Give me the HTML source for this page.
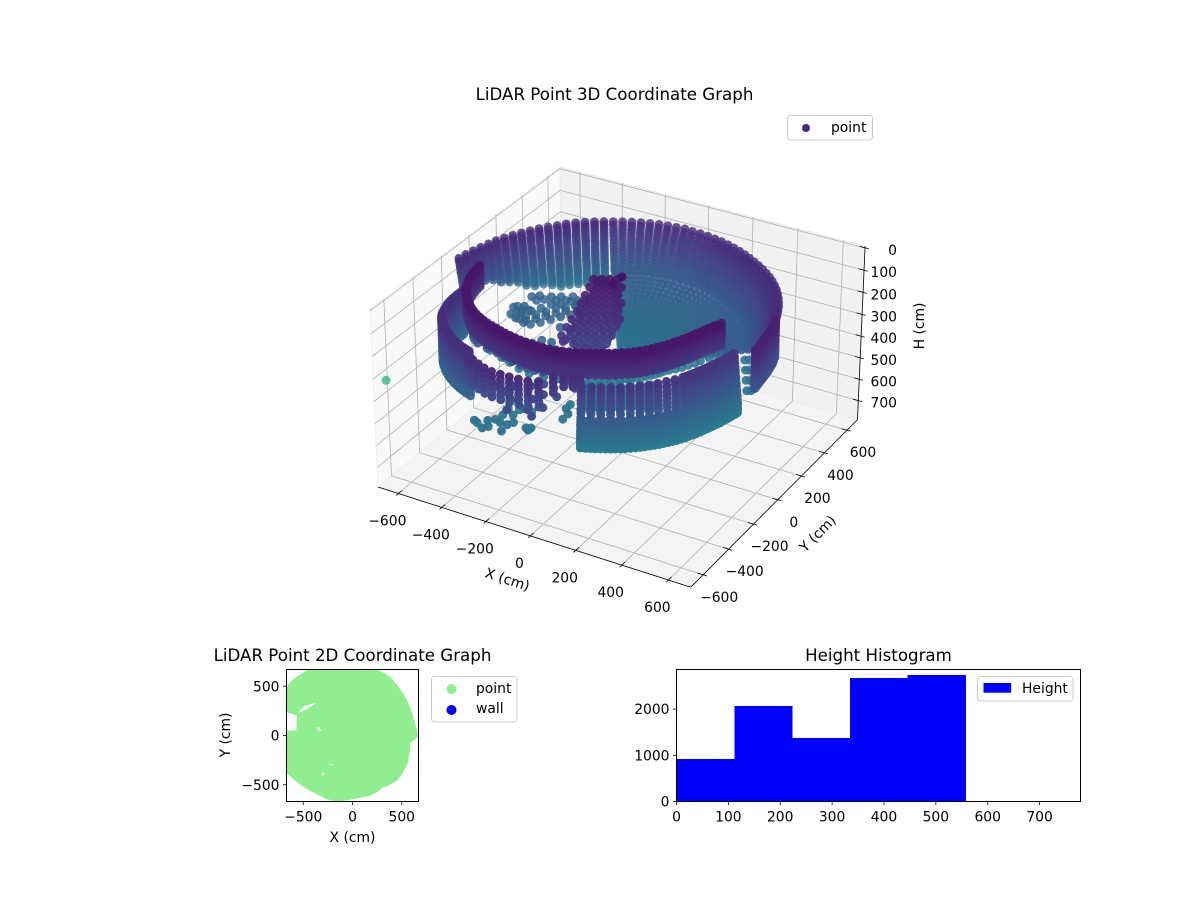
<!DOCTYPE html>
<html lang="en">
<head>
<meta charset="utf-8">
<title>LiDAR Point Graphs</title>
<style>
html,body{margin:0;padding:0;background:#fff;}
svg{display:block;font-family:"DejaVu Sans","Liberation Sans",sans-serif;}
text{fill:#000;}
.t{font-size:13.89px;}
.h{font-size:16.67px;}
</style>
</head>
<body>
<svg id="fig" width="1200" height="900" viewBox="0 0 1200 900" xmlns="http://www.w3.org/2000/svg">
  <defs>
    <clipPath id="clip2d"><rect x="286.5" y="669.5" width="132" height="132"/></clipPath>
  </defs>
  <rect x="0" y="0" width="1200" height="900" fill="#fff"/>

  <g id="chart3d">
    <text class="h" x="614.5" y="100" text-anchor="middle">LiDAR Point 3D Coordinate Graph</text>
    <g id="panes"></g>
    <g id="grid3d"></g>
    <g id="axes3d"></g>
    <g id="cloud"></g>
    <text class="t" x="0" y="0" transform="translate(506 584) rotate(18)" text-anchor="middle">X (cm)</text>
    <text class="t" x="0" y="0" transform="translate(821 537) rotate(-45)" text-anchor="middle">Y (cm)</text>
    <text class="t" x="0" y="0" transform="translate(924 326) rotate(-90)" text-anchor="middle">H (cm)</text>
    <g>
      <rect x="787.5" y="115.5" width="85" height="24.5" rx="3" fill="#fff" fill-opacity="0.8" stroke="#ccc" stroke-width="1"/>
      <circle cx="806" cy="128" r="4" fill="#472a7a"/>
      <text class="t" x="831" y="132">point</text>
    </g>
  </g>

  <g id="chart2d">
    <text class="h" x="352.5" y="661" text-anchor="middle">LiDAR Point 2D Coordinate Graph</text>
    <g clip-path="url(#clip2d)"><path id="disc" fill="#90ee90" fill-rule="evenodd"/></g>
    <rect x="286.5" y="669.5" width="132" height="132" fill="none" stroke="#000" stroke-width="1"/>
    <g id="ticks2d"></g>
    <text class="t" x="352.5" y="842" text-anchor="middle">X (cm)</text>
    <text class="t" x="0" y="0" transform="translate(230 735) rotate(-90)" text-anchor="middle">Y (cm)</text>
    <g>
      <rect x="431.5" y="676.5" width="85.5" height="45.5" rx="3" fill="#fff" fill-opacity="0.8" stroke="#ccc" stroke-width="1"/>
      <circle cx="451.5" cy="689" r="5" fill="#90ee90"/>
      <text class="t" x="476" y="693">point</text>
      <circle cx="451.5" cy="710" r="5" fill="#0000ff"/>
      <text class="t" x="476" y="713">wall</text>
    </g>
  </g>

  <g id="chartHist">
    <text class="h" x="878.5" y="661" text-anchor="middle">Height Histogram</text>
    <g id="bars"></g>
    <rect x="676.5" y="669.5" width="404" height="132" fill="none" stroke="#000" stroke-width="1"/>
    <g id="ticksHist"></g>
    <g>
      <rect x="977.5" y="676.5" width="95.5" height="24.5" rx="3" fill="#fff" fill-opacity="0.8" stroke="#ccc" stroke-width="1"/>
      <rect x="983.5" y="683" width="27.7" height="9.7" fill="#0000ff"/>
      <text class="t" x="1022" y="693">Height</text>
    </g>
  </g>
</svg>

<script>
// ---------- 3D axis limits and ticks ----------
const xLimits = [-695, 695];
const yLimits = [-695, 695];
const hLimits = [-8, 790];
const xTickValues = [-600, -400, -200, 0, 200, 400, 600];
const yTickValues = [-600, -400, -200, 0, 200, 400, 600];
const hTickValues = [0, 100, 200, 300, 400, 500, 600, 700];

// ---------- Back rim scan, left part (near-vertical columns, each with its own lowest height) ----------
const rimLeftAzimuth = [152.5,149.2,145.9,142.6,139.3,136,132.7,129.4,126.1,122.8,119.5,116.2,112.9,109.6,106.3,103,99.7,96.4];
const rimLeftRadius = [725,718,711,705,700,697,692,687,683,679,676,672,669,669,666,662,658,654];
const rimLeftLowest = [230,230,235,240,255,272,290,305,320,330,340,350,354,354,354,354,354,354];
const rimRowHeight = [90,102,114,126,138,150,162,174,186,198,210,222,234,246,258,270,282,294,306,318,330,342,354];
const rimRowScale = [1,.998,.995,.993,.991,.989,.986,.984,.982,.98,.977,.975,.973,.97,.968,.966,.964,.961,.959,.957,.955,.952,.95];

// ---------- Back bowl scan, right part (columns reach the centre) ----------
const bowlAzimuth = [93.1,89.8,86.5,83.2,79.9,76.6,73.3,70,66.7,63.4,60.1,56.8,53.5,50.2,46.9,43.6,40.3,37,33.7,30.4,27.1,23.8,20.5,17.2,13.9,10.6,7.3,4,.7,-2.6,-5.9,-9.2,-12.5];
const bowlRadius = [650,648,647,645,643,642,640,638,637,630,628,625,622,619,616,613,610,607,604,603,602,602,602,602,602,602,602,602,602,602,603,604,605];
const bowlRowHeight = [90,102,114,126,138,150,162,174,186,198,210,222,234,246,252,258,264,270,276,282,288,294,300,306,312,317,322,327,331,335,338,341,343,345];
const bowlRowScale = [1,.987,.973,.96,.947,.933,.92,.907,.893,.88,.867,.853,.84,.827,.82,.78,.74,.7,.66,.62,.58,.54,.5,.46,.42,.38,.34,.3,.26,.22,.18,.14,.1,.06];

// ---------- Upper purple band ----------
const bandAzimuth = [-196.8,-194.2,-191.6,-189,-186.4,-183.8,-181.2,-178.6,-176,-173.4,-170.8,-168.2,-165.6,-163,-160.4,-157.8,-155.2,-152.6,-150,-147.4,-144.8,-142.2,-139.6,-137,-134.4,-131.8,-129.2,-126.6,-124,-121.4,-118.8,-116.2,-113.6,-111,-108.4,-105.8,-103.2,-100.6,-98,-95.4,-92.8,-90.2,-87.6,-85,-82.4,-79.8,-77.2,-74.6,-72,-69.4,-66.8,-64.2,-61.6,-59,-56.4,-53.8,-51.2,-48.6,-46,-43.4,-40.8,-38.2];
const bandRadius = [578,582,585,589,592,595,597,599,599,599,599,598,597,597,596,594,591,588,585,581,577,575,573,571,569,568,566,565,564,562,560,556,552,548,544,540,536,532,528,525,522,518,516,513,509,505,500,495,490,486,482,478,475,472,469,467,465,464,465,468,472,476];
const bandRowHeight = [30,42,54,66,78,90,102,114,126];
const bandRowScale = [1,1,1,1,1,1,1,1,1];

// ---------- Front lower wall: solid lower rows ----------
const frontAzimuth = [-103.7,-102,-100.4,-98.7,-97.1,-95.4,-93.8,-92.2,-90.5,-88.9,-87.2,-85.6,-83.9,-82.3,-80.6,-79,-77.3,-75.7,-74,-72.3,-70.7,-69,-67.4,-65.8,-64.1,-62.5,-60.8,-59.2,-57.5,-55.9,-54.2,-52.6,-50.9,-49.3,-47.6,-46,-44.3,-42.6,-41];
const frontRadius = [655,653,651,650,648,647,646,645,644,642,640,638,636,634,632,630,628,625,622,620,618,615,612,608,605,602,599,596,593,591,589,587,586,584,583,582,581,581,580];
const frontRowHeight = [262,276,290,304,318,332,346,360,374];
const frontRowScale = [.985,.99,.99,.995,.995,1,1,1,1];

// ---------- Front wall: solid upper rows on the right ----------
const frontUpperAzimuth = [-65.8,-64.1,-62.5,-60.8,-59.2,-57.5,-55.9,-54.2,-52.6,-50.9,-49.3,-47.6,-46,-44.3,-42.6,-41];
const frontUpperRadius = [608,605,602,599,596,593,591,589,587,586,584,583,582,581,581,580];
const frontUpperRowHeight = [122,136,150,164,178,192,206,220,234,248];
const frontUpperRowScale = [.96,.965,.965,.97,.97,.975,.975,.98,.98,.985];

// ---------- Front wall: columns with slits on the left ----------
const frontLatticeAzimuth = [-103.7,-100.4,-97.1,-93.8,-90.5,-87.2,-83.9,-80.6,-77.3,-74,-70.7,-67.4];
const frontLatticeRadius = [655,651,648,646,644,640,636,632,628,622,618,612];
const frontLatticeRowHeight = [122,140,158,176,194,212,230,248];
const frontLatticeRowScale = [.96,.965,.97,.972,.975,.978,.98,.985];

// ---------- Teal returns seen through the slits ----------
const latticeBackX = [-37,-10,24,57,91,125,159,193,-6,21,55,88,122,156,190,224,25,52,86,119,153,187,221,255,56,83,117,150,184,218,252,286,-5,22,56,89,123,157,191,225,26,53,87,120,154,188,222,256,57,84,118,151,185,219,253,287];
const latticeBackY = [-247,-231,-212,-192,-173,-153,-134,-114,-301,-285,-266,-246,-227,-207,-188,-168,-355,-339,-320,-300,-281,-261,-242,-222,-409,-393,-374,-354,-335,-315,-296,-276,-264,-248,-229,-209,-190,-170,-151,-131,-318,-302,-283,-263,-244,-224,-205,-185,-372,-356,-337,-317,-298,-278,-259,-239];
const latticeBackH = [360,360,360,360,360,360,360,360,360,360,360,360,360,360,360,360,360,360,360,360,360,360,360,360,360,360,360,360,360,360,360,360,360,360,360,360,360,360,360,360,360,360,360,360,360,360,360,360,360,360,360,360,360,360,360,360];

// ---------- Right lower sliver ----------
const sliverAzimuth = [-42,-41,-39.5,-38,-36.5,-35,-33.5,-32,-30.5,-29,-27.5,-26,-24.5,-23,-21.5,-20];
const sliverRadius = [668,665,660,655,651,647,644,641,638,635,632,630,628,625,622,620];
const sliverRowHeight = [60,74,88,102,116,130,144,158,172,186,200,214,228];
const sliverRowScale = [1,1,1,1,1,1,1,1,1,1,1,1,1];
const connectorX = [445,485,524,563,432,471,510,549];
const connectorY = [212,145,77,9,204,137,69,1];
const connectorH = [340,340,340,340,340,340,340,340];

// ---------- Left lower wall ----------
const leftAzimuth = [-188,-186.5,-185,-183.5,-182,-180.5,-179,-177.5,-176,-174.5,-173,-171.5,-170,-168.5,-167,-165.5,-164,-162.5,-161,-159.5,-158,-156.5,-155,-153.5,-152,-150.5,-149,-147.5,-146];
const leftRadius = [625,632,640,647,655,662,668,674,680,686,692,696,700,701,702,702,703,703,703,702,702,701,700,699,698,696,694,692,690];
const leftRowHeight = [100,114,128,142,156,170,184,198,212,226,240,254,268,282,296];
const leftRowScale = [1,1,1,1,1,1,1,1,1,1,1,1,1,1,1];
const lowerLeftAzimuth = [-143,-140,-137,-134,-131,-128,-125,-122,-119,-116,-113,-110,-107,-104.5];
const lowerLeftRadius = [720,725,730,735,735,730,725,720,715,700,650,630,620,615];
const lowerLeftLowest = [200,200,200,200,200,200,200,200,200,200,156,134,134,112];
const lowerLeftRowHeight = [90,112,134,156,178,200];
const lowerLeftRowScale = [1,1,1,1,1,1];

// ---------- Blue strip just under the band on the left ----------
const innerStripAzimuth = [-186,-180,-175,-170,-165,-160,-155,-150,-145,-141,-137,-133];
const innerStripRadius = [597,585,575,563,535,508,495,483,470,463,452,440];
const innerStripRowHeight = [170,185,200,215,230];
const innerStripRowScale = [1,1,1,1,1];

// ---------- Thin teal seam seen between band and walls ----------
const seamAzimuth = [157,165,172,178,183,190,197,204,212,220,226,233,239,245,252,260,267,275,282,290,298,305,312,318,324,330,335,340,345,350,354,358,362,365,368,371];
const seamRadius = [686,600,520,470,438,405,375,330,284,255,240,226,212,200,178,165,155,150,150,152,156,160,166,172,178,185,200,220,240,260,285,305,340,370,405,441];
const seamRowHeight = [360];
const seamRowScale = [1];

// ---------- Scattered clusters (X, Y, H) ----------
const tealClusterX = [-216,-179,-190,-169,-162,-141,-110,-104,-98,-22,-20,-37,-168,-128,-79,-128,-117,50,21,19,47,-234,-164];
const tealClusterY = [-712,-736,-679,-658,-617,-669,-669,-719,-644,-664,-645,-654,-568,-553,-543,-598,-538,-531,-458,-424,-488,-703,-716];
const tealClusterH = [340,340,340,340,340,340,340,340,340,340,340,340,340,340,340,340,340,340,340,340,340,340,340];

const blueClusterX = [-23,26,44,94,-2,16,67,23,63,60,-44,-46,52,-122,-174,-107,-56,-235,-281,-159,-117,-86,-63];
const blueClusterY = [-545,-553,-506,-514,-659,-612,-601,-735,-694,-768,-774,-693,-475,-665,-650,-611,-582,-623,-622,-14,-125,-243,-337];
const blueClusterH = [200,200,200,200,200,200,200,200,200,200,200,200,200,200,200,200,200,200,200,130,130,130,130];

const midClusterX = [-491,-501,-478,-493,-470,-425,-392,-351,-302,-316,-341,-364,-386,-412,-444,-412,-394,-434,-460,-361,-338,-511,-267,-276,-235,-296,-459,-469,-446,-461,-438,-393,-360,-319,-270,-284,-309,-332,-354,-380,-412,-380,-362,-402,-428,-329,-306,-479];
const midClusterY = [-26,40,54,136,158,175,194,217,155,103,69,30,-10,-43,-43,74,121,35,1,140,180,26,-22,-145,-140,-183,-43,23,37,119,141,158,177,200,138,86,52,13,-27,-60,-60,57,104,18,-16,123,163,9];
const midClusterH = [280,280,280,280,280,280,280,280,280,280,280,280,280,280,280,280,280,280,280,280,280,280,280,280,280,280,280,280,280,280,280,280,280,280,280,280,280,280,280,280,280,280,280,280,280,280,280,280];

const clumpX = [-121,-94,-67,-40,-115,-88,-61,-34,-10,-111,-84,-57,-30,-3,-106,-79,-52,-25,2,26,-101,-74,-47,-20,7,34,-100,-73,-46,-19,9,36,59,-99,-71,-44,-17,10,37,64,-96,-66,-39,-12,15,42,69,-38,-11,16,43,70,-1,26,53,-8,-19,
  -98,-71,-44,-92,-65,-38,-11,-88,-61,-34,-7,-83,-56,-29,-2,25,-78,-51,-24,3,30,-77,-50,-23,4,32,59,-76,-48,-21,6,33,60,-73,-43,-16,11,38,65,-15,12,39,66];
const clumpY = [-10,6,22,37,-49,-34,-18,-3,11,-89,-74,-58,-42,-27,-129,-113,-98,-82,-67,-53,-168,-152,-137,-121,-105,-90,-210,-194,-178,-163,-147,-132,-118,-251,-236,-220,-205,-189,-173,-158,-293,-276,-260,-244,-229,-213,-198,-302,-286,-270,-255,-239,-286,-271,-255,14,-37,
  -19,-3,13,-58,-43,-27,-12,-98,-83,-67,-51,-138,-122,-107,-91,-76,-177,-161,-146,-130,-114,-219,-203,-187,-172,-156,-141,-260,-245,-229,-214,-198,-182,-302,-285,-269,-253,-238,-222,-311,-295,-279,-264];
const clumpH = [30,30,30,30,45,45,45,45,45,60,60,60,60,60,75,75,75,75,75,75,90,90,90,90,90,90,105,105,105,105,105,105,105,120,120,120,120,120,120,120,135,135,135,135,135,135,135,150,150,150,150,150,175,175,175,0,10,
  37,37,37,52,52,52,52,67,67,67,67,82,82,82,82,82,97,97,97,97,97,112,112,112,112,112,112,127,127,127,127,127,127,142,142,142,142,142,142,157,157,157,157];

const outlierX = [-968];
const outlierY = [-219];
const outlierH = [628];

// ---------- 2D footprint outline (X, Y in cm) ----------
const footprintX = [-673,-622,-571,-503,-435,228,313,381,449,517,558,592,619,646,670,646,619,592,585,585,558,510,449,381,313,245,177,92,7,-78,-163,-265,-367,-452,-537,-605,-673,-673,-571,-565,-673];
const footprintY = [493,551,595,639,680,680,639,595,520,425,350,272,187,92,0,-34,-51,-68,-85,-153,-289,-384,-459,-500,-527,-578,-612,-629,-646,-663,-670,-646,-595,-551,-493,-439,-374,51,51,204,238];
const gapWedgeX = [-554,-493,-367,-476];
const gapWedgeY = [228,296,333,262];
const gapCentreX = [-361,-333,-310,-350];
const gapCentreY = [85,78,44,51];
const gapLowerAX = [-248,-180,-224];
const gapLowerAY = [-282,-296,-296];
const gapLowerBX = [-316,-282,-299];
const gapLowerBY = [-398,-364,-408];
const xTicks2d = [-500, 0, 500];
const yTicks2d = [-500, 0, 500];

// ---------- Histogram ----------
const binEdges = [0,111.4,222.8,334.2,445.6,557,668.4,779.8];
const binCounts = [917,2065,1372,2671,2736,0,1];
const histXTicks = [0,100,200,300,400,500,600,700];
const histYTicks = [0,1000,2000];

// ---------- helpers ----------
const NS = 'http://www.w3.org/2000/svg';
const minus = v => String(v).replace('-', '\u2212');
function mk(tag, parent, attrs, txt) {
  const el = document.createElementNS(NS, tag);
  for (const k in attrs) el.setAttribute(k, attrs[k]);
  if (txt !== undefined) el.textContent = txt;
  parent.appendChild(el);
  return el;
}

// ---------- 3D projection ----------
const boxXY = 1.143, boxH = 0.65;
const camDist = 10, pxScale = 3120, originX = 622, originY = 366.3;
const uVec = [.866, .5, 0], vVec = [-.25, .433, .866], wVec = [.433, -.75, .5];
function toView(x, y, h) {
  const qx = ((x - xLimits[0]) / (xLimits[1] - xLimits[0]) - .5) * boxXY;
  const qy = ((y - yLimits[0]) / (yLimits[1] - yLimits[0]) - .5) * boxXY;
  const qz = (.5 - (h - hLimits[0]) / (hLimits[1] - hLimits[0])) * boxH;
  const u = uVec[0] * qx + uVec[1] * qy;
  const v = vVec[0] * qx + vVec[1] * qy + vVec[2] * qz;
  const w = wVec[0] * qx + wVec[1] * qy + wVec[2] * qz;
  const d = camDist - w;
  return {sx: originX + pxScale * u / d, sy: originY - pxScale * v / d, depth: w};
}

const viridisStops = ['#440154','#482475','#414487','#355f8d','#2a788e','#21918c','#22a884','#44bf70','#7ad151','#bddf26','#fde725'];
function viridis(t) {
  t = Math.max(0, Math.min(.9999, t)) * 10;
  const i = Math.floor(t), f = t - i;
  const a = viridisStops[i], b = viridisStops[i + 1];
  const c = [1, 3, 5].map(p => Math.round(parseInt(a.substr(p, 2), 16) * (1 - f) + parseInt(b.substr(p, 2), 16) * f));
  return 'rgb(' + c.join(',') + ')';
}
const heightColor = h => viridis((h + 34) / 1000);

// ---------- panes ----------
(function () {
  const g = document.getElementById('panes');
  const [x0, x1] = xLimits, [y0, y1] = yLimits, [hT, hB] = hLimits;
  const poly = pts => pts.map(p => { const s = toView(p[0], p[1], p[2]); return s.sx + ',' + s.sy; }).join(' ');
  const left = mk('polygon', g, {points: poly([[x0,y0,hB],[x0,y0,hT],[x0,y1,hT],[x0,y1,hB]]), fill: '#f9f9f9', stroke: '#eeeeee', 'stroke-width': .8});
  
  
  const back = mk('polygon', g, {points: poly([[x0,y1,hB],[x0,y1,hT],[x1,y1,hT],[x1,y1,hB]]), fill: '#f1f1f1', stroke: '#e8e8e8', 'stroke-width': .8});
  
  
  const floor = mk('polygon', g, {points: poly([[x0,y0,hB],[x1,y0,hB],[x1,y1,hB],[x0,y1,hB]]), fill: '#f4f4f4', stroke: '#ececec', 'stroke-width': .8});
  
  
})();

// ---------- grid, axes, ticks ----------
(function () {
  const g = document.getElementById('grid3d'), ax = document.getElementById('axes3d');
  const [x0, x1] = xLimits, [y0, y1] = yLimits, [hT, hB] = hLimits;
  const path = pts => pts.map((p, i) => { const s = toView(p[0], p[1], p[2]); return (i ? 'L' : 'M') + s.sx.toFixed(1) + ' ' + s.sy.toFixed(1); }).join(' ');
  const gridStyle = {fill: 'none', stroke: '#b0b0b0', 'stroke-width': .8};
  xTickValues.forEach(x => {
    const el = mk('path', g, Object.assign({d: path([[x,y0,hB],[x,y1,hB],[x,y1,hT]])}, gridStyle));
    
    
  });
  yTickValues.forEach(y => {
    const el = mk('path', g, Object.assign({d: path([[x1,y,hB],[x0,y,hB],[x0,y,hT]])}, gridStyle));
    
    
  });
  hTickValues.forEach(h => {
    const el = mk('path', g, Object.assign({d: path([[x0,y0,h],[x0,y1,h],[x1,y1,h]])}, gridStyle));
    
    
  });
  const axisStyle = {fill: 'none', stroke: '#000', 'stroke-width': .8};
  const xa = mk('path', ax, Object.assign({d: path([[x0,y0,hB],[x1,y0,hB]])}, axisStyle));
  
  
  const ya = mk('path', ax, Object.assign({d: path([[x1,y0,hB],[x1,y1,hB]])}, axisStyle));
  
  
  const ha = mk('path', ax, Object.assign({d: path([[x1,y1,hB],[x1,y1,hT]])}, axisStyle));
  
  
  const tickIn = 24, tickOut = 16;
  xTickValues.forEach(x => {
    const t = mk('path', ax, Object.assign({d: path([[x,y0-tickOut,hB],[x,y0+tickIn,hB]])}, axisStyle));
    
    
    const s = toView(x, y0, hB);
    const l = mk('text', ax, {class: 't', x: s.sx - 11, y: s.sy + 32, 'text-anchor': 'middle'}, minus(x));
    
    
  });
  yTickValues.forEach(y => {
    const t = mk('path', ax, Object.assign({d: path([[x1+tickOut,y,hB],[x1-tickIn,y,hB]])}, axisStyle));
    
    
    const s = toView(x1, y, hB);
    const l = mk('text', ax, {class: 't', x: s.sx + 16, y: s.sy + 27, 'text-anchor': 'middle'}, minus(y));
    
    
  });
  hTickValues.forEach(h => {
    const t = mk('path', ax, Object.assign({d: path([[x1+tickOut,y1,h],[x1-tickIn,y1,h]])}, axisStyle));
    
    
    const s = toView(x1, y1, h);
    const l = mk('text', ax, {class: 't', x: 897, y: s.sy + 7, 'text-anchor': 'end'}, String(h));
    
    
  });
})();

// ---------- point cloud ----------
(function () {
  const pts = [];
  function addScan(azimuth, radius, rowHeight, rowScale, lowest) {
    azimuth.forEach((a, c) => {
      const th = (a + 30) * Math.PI / 180;
      rowHeight.forEach((h, r) => {
        if (lowest && h > lowest[c]) return;
        const rad = radius[c] * rowScale[r];
        pts.push([rad * Math.cos(th), rad * Math.sin(th), h]);
      });
    });
  }
  function addCluster(xs, ys, hs) { xs.forEach((x, i) => pts.push([x, ys[i], hs[i]])); }
  addScan(rimLeftAzimuth, rimLeftRadius, rimRowHeight, rimRowScale, rimLeftLowest);
  addScan(bowlAzimuth, bowlRadius, bowlRowHeight, bowlRowScale);
  addScan(bandAzimuth, bandRadius, bandRowHeight, bandRowScale);
  addScan(frontAzimuth, frontRadius, frontRowHeight, frontRowScale);
  addScan(frontUpperAzimuth, frontUpperRadius, frontUpperRowHeight, frontUpperRowScale);
  addScan(frontLatticeAzimuth, frontLatticeRadius, frontLatticeRowHeight, frontLatticeRowScale);
  addScan(sliverAzimuth, sliverRadius, sliverRowHeight, sliverRowScale);
  addScan(leftAzimuth, leftRadius, leftRowHeight, leftRowScale);
  addScan(lowerLeftAzimuth, lowerLeftRadius, lowerLeftRowHeight, lowerLeftRowScale, lowerLeftLowest);
  addScan(innerStripAzimuth, innerStripRadius, innerStripRowHeight, innerStripRowScale);
  addScan(seamAzimuth, seamRadius, seamRowHeight, seamRowScale);
  addCluster(latticeBackX, latticeBackY, latticeBackH);
  addCluster(connectorX, connectorY, connectorH);
  addCluster(tealClusterX, tealClusterY, tealClusterH);
  addCluster(blueClusterX, blueClusterY, blueClusterH);
  addCluster(midClusterX, midClusterY, midClusterH);
  addCluster(clumpX, clumpY, clumpH);
  addCluster(outlierX, outlierY, outlierH);

  const marks = pts.map(p => { const s = toView(p[0], p[1], p[2]); s.h = p[2]; return s; });
  const depths = marks.map(m => m.depth);
  const minD = Math.min.apply(null, depths), maxD = Math.max.apply(null, depths);
  marks.sort((a, b) => a.depth - b.depth);
  const g = document.getElementById('cloud');
  marks.forEach(m => {
    const alpha = .78 + .22 * (m.depth - minD) / (maxD - minD);
    const c = mk('circle', g, {cx: m.sx.toFixed(1), cy: m.sy.toFixed(1), r: 4.45, fill: heightColor(m.h), 'fill-opacity': alpha.toFixed(2)});
    
    
  });
})();

// ---------- 2D chart ----------
(function () {
  const sx = x => 352.5 + x * 0.0985;
  const sy = y => 735.5 - y * 0.0985;
  const ring = (xs, ys) => xs.map((x, i) => (i ? 'L' : 'M') + sx(x).toFixed(1) + ' ' + sy(ys[i]).toFixed(1)).join(' ') + ' Z';
  document.getElementById('disc').setAttribute('d', [
    ring(footprintX, footprintY), ring(gapWedgeX, gapWedgeY), ring(gapCentreX, gapCentreY),
    ring(gapLowerAX, gapLowerAY), ring(gapLowerBX, gapLowerBY)].join(' '));
  const g = document.getElementById('ticks2d');
  xTicks2d.forEach(v => {
    const t = mk('line', g, {x1: sx(v), x2: sx(v), y1: 801.5, y2: 805, stroke: '#000', 'stroke-width': .8});
    
    
    const l = mk('text', g, {class: 't', x: sx(v), y: 821.5, 'text-anchor': 'middle'}, minus(v));
    
    
  });
  yTicks2d.forEach(v => {
    const t = mk('line', g, {x1: 283, x2: 286.5, y1: sy(v), y2: sy(v), stroke: '#000', 'stroke-width': .8});
    
    
    const l = mk('text', g, {class: 't', x: 279.5, y: sy(v) + 5, 'text-anchor': 'end'}, minus(v));
    
    
  });
})();

// ---------- Histogram ----------
(function () {
  const sx = v => 676.5 + v * 0.5187;
  const sy = v => 801.5 - v * 0.0462;
  const b = document.getElementById('bars');
  binCounts.forEach((c, i) => {
    const r = mk('rect', b, {x: sx(binEdges[i]), y: sy(c), width: sx(binEdges[i + 1]) - sx(binEdges[i]) + .4, height: 801.5 - sy(c), fill: '#0000ff', 'shape-rendering': 'crispEdges'});
    
    
  });
  const g = document.getElementById('ticksHist');
  histXTicks.forEach(v => {
    const t = mk('line', g, {x1: sx(v), x2: sx(v), y1: 801.5, y2: 805, stroke: '#000', 'stroke-width': .8});
    
    
    const l = mk('text', g, {class: 't', x: sx(v), y: 821.5, 'text-anchor': 'middle'}, String(v));
    
    
  });
  histYTicks.forEach(v => {
    const t = mk('line', g, {x1: 673, x2: 676.5, y1: sy(v), y2: sy(v), stroke: '#000', 'stroke-width': .8});
    
    
    const l = mk('text', g, {class: 't', x: 669.5, y: sy(v) + 5, 'text-anchor': 'end'}, String(v));
    
    
  });
})();
</script>
</body>
</html>
